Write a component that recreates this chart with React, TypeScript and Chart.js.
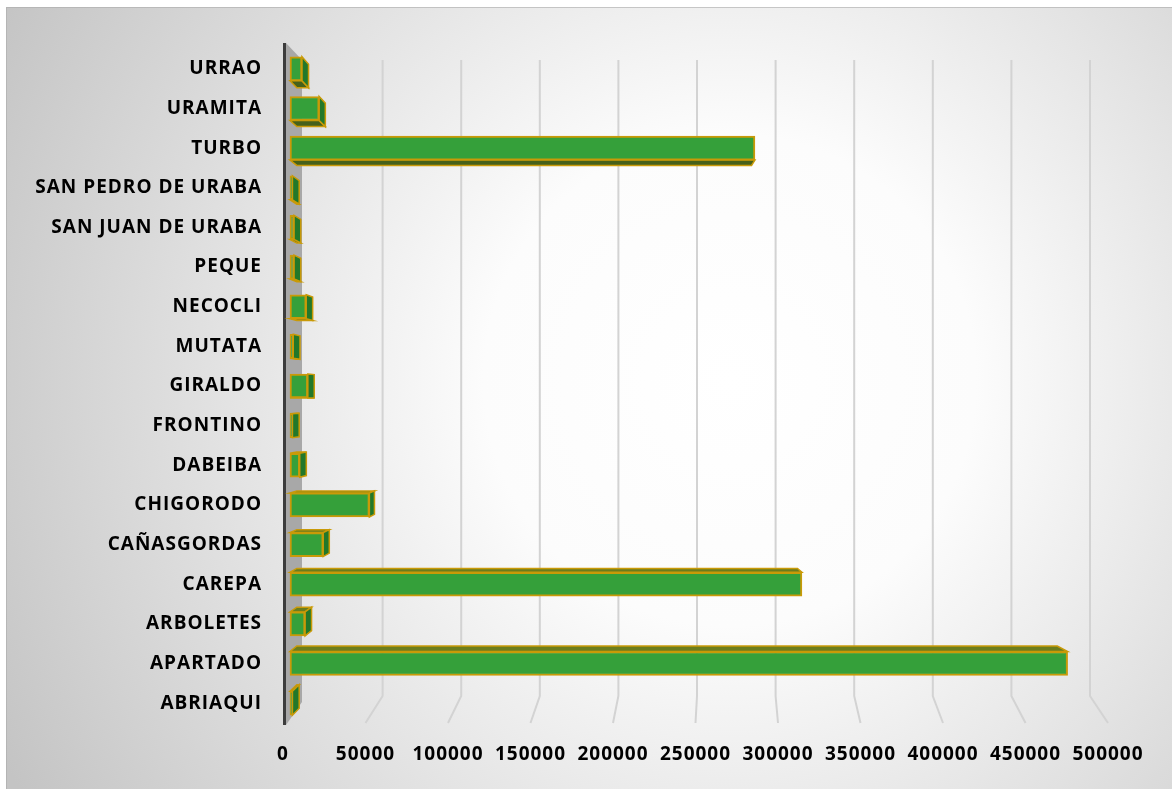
import { useEffect, useRef } from "react";
import { Chart, registerables } from "chart.js";

Chart.register(...registerables);

// ---- data (bottom-to-top order, as in the source sheet) ----
const categories = [
  "ABRIAQUI",
  "APARTADO",
  "ARBOLETES",
  "CAREPA",
  "CAÑASGORDAS",
  "CHIGORODO",
  "DABEIBA",
  "FRONTINO",
  "GIRALDO",
  "MUTATA",
  "NECOCLI",
  "PEQUE",
  "SAN JUAN DE URABA",
  "SAN PEDRO DE URABA",
  "TURBO",
  "URAMITA",
  "URRAO",
];
const values = [
  1500, 480000, 9300, 316000, 20500, 49000, 6000, 1500, 11000, 2000, 10000,
  2500, 2500, 1500, 287000, 18000, 7400,
];
const tickValues = [
  0, 50000, 100000, 150000, 200000, 250000, 300000, 350000, 400000, 450000,
  500000,
];

const FONT = { family: "'Open Sans', sans-serif", size: 19, weight: "bold" as const };

const setSpacing = (chart: any) => {
  try {
    (chart.ctx as any).letterSpacing = "1px";
  } catch (e) {}
};

const bgPlugin = {
  id: "bg3d",
  beforeUpdate(chart: any) {
    setSpacing(chart);
  },
  beforeLayout(chart: any) {
    setSpacing(chart);
  },
  beforeDraw(chart: any) {
    setSpacing(chart);
    const { ctx, width, height } = chart;
    ctx.save();
    ctx.fillStyle = "#ffffff";
    ctx.fillRect(0, 0, width, height);
    const g = ctx.createRadialGradient(730, 380, 0, 730, 380, 820);
    g.addColorStop(0, "#ffffff");
    g.addColorStop(0.3, "#fcfcfc");
    g.addColorStop(1, "#c4c4c4");
    ctx.fillStyle = g;
    ctx.fillRect(6, 7, width - 6, height - 7);
    ctx.strokeStyle = "rgba(170,170,170,0.6)";
    ctx.lineWidth = 1;
    ctx.strokeRect(6.5, 7.5, width - 6, height - 7);
    ctx.restore();
  },
  beforeDatasetsDraw(chart: any) {
    const { ctx, chartArea } = chart;
    const T = chartArea.top;
    const B = chartArea.bottom;
    const L = chartArea.left;
    const xg = chart.scales.xg;
    const xl = chart.scales.xl;
    ctx.save();
    // back gridlines bending onto the floor
    ctx.strokeStyle = "#d3d3d3";
    ctx.lineWidth = 2;
    tickValues.forEach((v) => {
      if (v === 0) return;
      const bx = xg.getPixelForValue(v);
      const fx = xl.getPixelForValue(v);
      ctx.beginPath();
      ctx.moveTo(bx, T + 11);
      ctx.lineTo(bx, B - 27);
      ctx.lineTo(fx, B);
      ctx.stroke();
    });
    // side wall
    ctx.fillStyle = "#a8a8a8";
    ctx.beginPath();
    ctx.moveTo(L + 3, T - 6);
    ctx.lineTo(L + 19, T + 11);
    ctx.lineTo(L + 19, B - 21);
    ctx.lineTo(L + 3, B + 2);
    ctx.closePath();
    ctx.fill();
    ctx.strokeStyle = "#3c3c3c";
    ctx.lineWidth = 3;
    ctx.beginPath();
    ctx.moveTo(L + 1.5, T - 6);
    ctx.lineTo(L + 1.5, B + 2);
    ctx.stroke();

    // 3D faces of bars
    const meta = chart.getDatasetMeta(0);
    const vx = 600;
    const vy = 400;
    const s = 0.022;
    const back = (px: number, py: number) => [px + (vx - px) * s, py + (vy - py) * s];
    const poly = (pts: number[][], fill: string) => {
      ctx.beginPath();
      ctx.moveTo(pts[0][0], pts[0][1]);
      for (let i = 1; i < pts.length; i++) ctx.lineTo(pts[i][0], pts[i][1]);
      ctx.closePath();
      ctx.fillStyle = fill;
      ctx.fill();
      ctx.strokeStyle = "#c99a08";
      ctx.lineWidth = 1.5;
      ctx.stroke();
    };
    meta.data.forEach((el: any) => {
      const { x, y, base, height } = el.getProps(["x", "y", "base", "height"], true);
      const top = y - height / 2;
      const bottom = y + height / 2;
      if (top > vy) {
        poly([[base, top], [x, top], back(x, top), back(base, top)], "#6b7d1d");
      }
      if (bottom < vy) {
        poly([[base, bottom], [x, bottom], back(x, bottom), back(base, bottom)], "#46611a");
      }
      if (x < vx) {
        poly([[x, top], back(x, top), back(x, bottom), [x, bottom]], "#22782a");
      }
    });
    ctx.restore();
  },
};

const setTicks = (scale: any) => {
  scale.ticks = tickValues.map((v) => ({ value: v }));
};

export default function App() {
  const ref = useRef<HTMLCanvasElement | null>(null);
  useEffect(() => {
    document.body.style.margin = "0";
    if (!ref.current) return;
    const chart = new Chart(ref.current, {
      type: "bar",
      data: {
        labels: categories,
        datasets: [
          {
            data: values,
            xAxisID: "x",
            yAxisID: "y",
            backgroundColor: "#35a03a",
            borderColor: "#c99a08",
            borderWidth: 2,
            borderSkipped: false,
            barThickness: 24,
          },
        ],
      },
      options: {
        indexAxis: "y",
        responsive: false,
        animation: false,
        events: [],
        layout: { padding: { top: 49, right: 64, bottom: 0, left: 0 } },
        plugins: { legend: { display: false }, tooltip: { enabled: false } },
        scales: {
          y: {
            type: "category",
            reverse: true,
            grid: { display: false, drawTicks: false },
            border: { display: false },
            ticks: { font: FONT, color: "#000000", padding: 21, autoSkip: false },
            afterFit: (scale: any) => {
              scale.width = 283;
            },
          },
          x: { type: "linear", display: false, min: -4321, max: 504938 },
          xg: {
            type: "linear",
            display: false,
            position: "bottom",
            min: -13359,
            max: 511450,
            afterBuildTicks: setTicks,
          },
          xl: {
            type: "linear",
            position: "bottom",
            min: 0,
            max: 500000,
            afterBuildTicks: setTicks,
            grid: { display: false, drawTicks: false },
            border: { display: false },
            ticks: {
              font: FONT,
              color: "#000000",
              padding: 20,
              maxRotation: 0,
              autoSkip: false,
              callback: (v: any) => String(v),
            },
            afterFit: (scale: any) => {
              scale.height = 66;
            },
          },
        },
      } as any,
      plugins: [bgPlugin],
    });
    return () => chart.destroy();
  }, []);
  return (
    <div style={{ width: 1172, height: 789 }}>
      <canvas ref={ref} width={1172} height={789} style={{ display: "block" }} />
    </div>
  );
}
